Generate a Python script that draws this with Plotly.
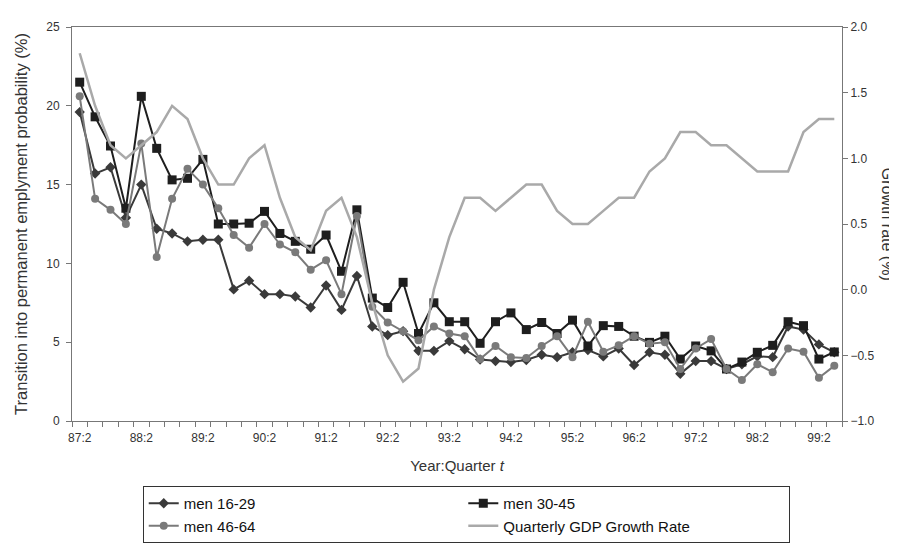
import plotly.graph_objects as go

# quarters 87:2 .. 99:3 (50 categories)
quarters = []
for yr in range(87, 100):
    for q in range(1, 5):
        if (yr == 87 and q < 2) or (yr == 99 and q > 3):
            continue
        quarters.append(f"{yr}:{q}")

men_16_29 = [19.6, 15.7, 16.1, 12.9, 15.0, 12.2, 11.9, 11.4, 11.5, 11.5,
             8.35, 8.9, 8.05, 8.05, 7.9, 7.2, 8.6, 7.05, 9.2, 6.0,
             5.45, 5.7, 4.45, 4.45, 5.07, 4.55, 3.9, 3.8, 3.74, 3.87,
             4.2, 4.05, 4.36, 4.5, 4.1, 4.6, 3.55, 4.36, 4.2, 3.0,
             3.8, 3.8, 3.3, 3.6, 4.1, 4.05, 6.0, 5.8, 4.86, 4.36]
men_30_45 = [21.5, 19.3, 17.45, 13.5, 20.6, 17.3, 15.3, 15.4, 16.6, 12.5,
             12.5, 12.55, 13.3, 11.9, 11.4, 10.9, 11.8, 9.5, 13.4, 7.8,
             7.2, 8.8, 5.55, 7.5, 6.3, 6.3, 4.93, 6.3, 6.86, 5.8,
             6.25, 5.55, 6.4, 4.76, 6.05, 6.0, 5.38, 4.99, 5.38, 3.93,
             4.76, 4.45, 3.3, 3.74, 4.36, 4.8, 6.3, 6.05, 3.93, 4.38]
men_46_64 = [20.6, 14.1, 13.4, 12.5, 17.6, 10.4, 14.1, 16.0, 15.0, 13.5,
             11.8, 11.0, 12.5, 11.2, 10.7, 9.6, 10.2, 8.05, 13.0, 7.25,
             6.25, 5.7, 5.13, 6.0, 5.55, 5.38, 3.93, 4.76, 4.05, 4.0,
             4.76, 5.38, 4.05, 6.3, 4.4, 4.8, 5.38, 4.9, 5.0, 3.3,
             4.6, 5.2, 3.3, 2.6, 3.6, 3.1, 4.6, 4.4, 2.74, 3.5]
gdp_growth = [1.8, 1.4, 1.1, 1.0, 1.1, 1.2, 1.4, 1.3, 1.0, 0.8,
              0.8, 1.0, 1.1, 0.7, 0.4, 0.3, 0.6, 0.7, 0.4, -0.1,
              -0.5, -0.7, -0.6, 0.0, 0.4, 0.7, 0.7, 0.6, 0.7, 0.8,
              0.8, 0.6, 0.5, 0.5, 0.6, 0.7, 0.7, 0.9, 1.0, 1.2,
              1.2, 1.1, 1.1, 1.0, 0.9, 0.9, 0.9, 1.2, 1.3, 1.3]

x = list(range(len(quarters)))
label_idx = [i for i, q in enumerate(quarters) if q.endswith(":2")]

FONT = "Liberation Sans Narrow, Arial Narrow, Liberation Sans, Arial"
TITLE_FONT = "Liberation Sans, Arial"

fig = go.Figure()
fig.add_trace(go.Scatter(
    x=x, y=men_16_29, name="men 16-29", mode="lines+markers",
    line=dict(color="#3a3a3a", width=2),
    marker=dict(symbol="diamond", size=8, color="#3a3a3a"),
))
fig.add_trace(go.Scatter(
    x=x, y=men_30_45, name="men 30-45", mode="lines+markers",
    line=dict(color="#1e1e1e", width=2),
    marker=dict(symbol="square", size=9, color="#1e1e1e"),
))
fig.add_trace(go.Scatter(
    x=x, y=men_46_64, name="men 46-64", mode="lines+markers",
    line=dict(color="#7a7a7a", width=2),
    marker=dict(symbol="circle", size=8, color="#7a7a7a"),
))
fig.add_trace(go.Scatter(
    x=x, y=gdp_growth, name="Quarterly GDP Growth Rate", mode="lines",
    line=dict(color="#a9a9a9", width=2.5), yaxis="y2",
))

fig.update_layout(
    width=897, height=554,
    margin=dict(l=64, r=63, t=12, b=141),
    paper_bgcolor="white", plot_bgcolor="white",
    font=dict(family=FONT, size=12, color="#333333"),
    xaxis=dict(
        range=[-0.5, len(quarters) - 0.5],
        tickvals=label_idx, ticktext=[quarters[i] for i in label_idx],
        ticks="", showgrid=False, zeroline=False,
        showline=True, linecolor="#777777", linewidth=1, mirror=True,
        minor=dict(tickvals=[i - 0.5 for i in range(len(quarters) + 1)],
                   ticks="outside", ticklen=5, tickcolor="#777777"),
        title=dict(text="Year:Quarter <i>t</i>", font=dict(size=15, family=TITLE_FONT), standoff=16),
        tickfont=dict(size=12),
        ticklabelstandoff=6,
    ),
    yaxis=dict(
        range=[0, 25], tickvals=[0, 5, 10, 15, 20, 25],
        ticks="outside", ticklen=5, tickcolor="#777777",
        showgrid=False, zeroline=False,
        showline=True, linecolor="#777777", linewidth=1,
        title=dict(text="Transition into permanent emplyment probability (%)",
                   font=dict(size=16.5, family=TITLE_FONT), standoff=14),
        tickfont=dict(size=12),
        ticklabelstandoff=4,
    ),
    yaxis2=dict(
        range=[-1.0, 2.0], tickvals=[-1.0, -0.5, 0.0, 0.5, 1.0, 1.5, 2.0],
        tickformat=".1f", overlaying="y", side="right",
        ticks="outside", ticklen=5, tickcolor="#777777",
        showgrid=False, zeroline=False,
        showline=True, linecolor="#777777", linewidth=1,
        tickfont=dict(size=12),
    ),
    legend=dict(
        orientation="h", x=0.512, xanchor="center", y=-0.165, yanchor="top",
        entrywidth=0.415, entrywidthmode="fraction",
        bordercolor="#333333", borderwidth=1,
        font=dict(size=15, family=FONT, color="#111111"),
        traceorder="normal",
    ),
    annotations=[dict(
        text="Growth rate (%)", textangle=90, showarrow=False,
        xref="paper", yref="paper", x=1.06, y=0.5, xanchor="center", yanchor="middle",
        font=dict(size=16, family=TITLE_FONT, color="#333333"),
    )],
)

fig.write_html("out.html")
